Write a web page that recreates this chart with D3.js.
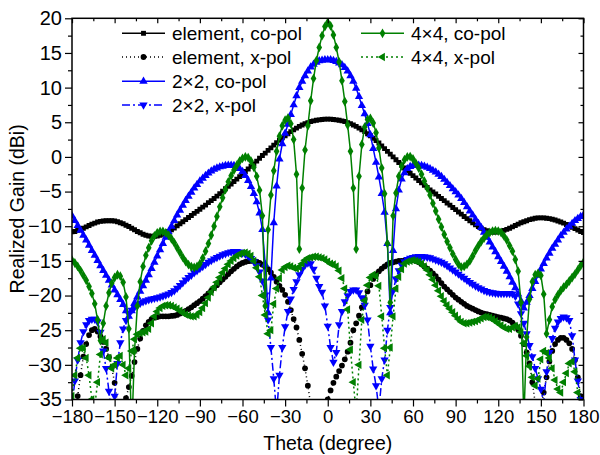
<!DOCTYPE html>
<html lang="en">
<head>
  <meta charset="UTF-8">
  <title>Realized Gain vs Theta</title>
  <style>
    body { margin: 0; background: #fff; }
    svg { display: block; font-family: Arial, "Liberation Sans", sans-serif; }
  </style>
</head>
<body>
  <svg id="chart" width="600" height="455"></svg>

  <script src="https://d3js.org/d3.v7.min.js"></script>
  <script>
    // sampling grid (degrees), one value every 2 degrees
    const theta = d3.range(-180, 181, 2);

    const xTicks = [-180, -150, -120, -90, -60, -30, 0, 30, 60, 90, 120, 150, 180];
    const yTicks = [-35, -30, -25, -20, -15, -10, -5, 0, 5, 10, 15, 20];

    // element, co-pol
    const elemCo = [
      -10.8, -10.75, -10.6, -10.45, -10.3, -10.1, -9.9, -9.7, -9.55, -9.4,
      -9.3, -9.25, -9.2, -9.2, -9.2, -9.25, -9.35, -9.5, -9.65, -9.85,
      -10.05, -10.3, -10.5, -10.75, -10.95, -11.15, -11.3, -11.4, -11.45, -11.45,
      -11.4, -11.3, -11.15, -10.95, -10.75, -10.5, -10.25, -9.95, -9.65, -9.35,
      -9.05, -8.75, -8.45, -8.15, -7.85, -7.55, -7.25, -6.95, -6.6, -6.3,
      -6.0, -5.65, -5.3, -4.95, -4.6, -4.25, -3.9, -3.55, -3.2, -2.85,
      -2.5, -2.1, -1.75, -1.35, -1.0, -0.6, -0.2, 0.2, 0.55, 0.95,
      1.3, 1.7, 2.05, 2.4, 2.75, 3.05, 3.35, 3.65, 3.9, 4.15,
      4.4, 4.6, 4.8, 4.95, 5.1, 5.2, 5.3, 5.35, 5.4, 5.45,
      5.45, 5.45, 5.4, 5.35, 5.3, 5.2, 5.1, 4.95, 4.8, 4.6,
      4.4, 4.15, 3.9, 3.65, 3.35, 3.05, 2.7, 2.35, 2.0, 1.6,
      1.2, 0.8, 0.4, 0.0, -0.4, -0.8, -1.2, -1.6, -1.95, -2.35,
      -2.7, -3.05, -3.4, -3.75, -4.1, -4.4, -4.75, -5.05, -5.35, -5.7,
      -6.0, -6.3, -6.65, -6.95, -7.3, -7.6, -7.95, -8.25, -8.6, -8.9,
      -9.2, -9.5, -9.8, -10.05, -10.3, -10.5, -10.65, -10.8, -10.85, -10.85,
      -10.8, -10.7, -10.6, -10.45, -10.3, -10.1, -9.9, -9.7, -9.5, -9.35,
      -9.2, -9.05, -8.95, -8.85, -8.8, -8.8, -8.8, -8.85, -8.9, -9.0,
      -9.1, -9.25, -9.4, -9.55, -9.75, -9.95, -10.15, -10.35, -10.55, -10.75,
      -10.9
    ];

    // element, x-pol
    const elemX = [
      -38, -36.5, -34.5, -31.5, -28.8, -27, -25.7, -25.0, -24.8, -25.2,
      -25.9, -26.7, -27.7, -28.9, -30.4, -32.6, -35.5, -38.5, -37.5, -34.8,
      -33.2, -31.6, -29.6, -27.7, -26.2, -25.1, -24.3, -23.8, -23.4, -23.2,
      -23.1, -23.0, -23.0, -23.0, -23.0, -22.95, -22.9, -22.8, -22.6, -22.4,
      -22.2, -21.95, -21.7, -21.4, -21.1, -20.8, -20.45, -20.1, -19.7, -19.3,
      -18.9, -18.5, -18.1, -17.7, -17.3, -16.9, -16.5, -16.15, -15.8, -15.5,
      -15.3, -15.15, -15.05, -15.0, -15.0, -15.1, -15.3, -15.55, -15.85, -16.2,
      -16.7, -17.3, -18.0, -18.6, -19.2, -19.9, -20.9, -22.1, -23.4, -24.6,
      -26.4, -28.4, -30.5, -33.0, -35.8, -38.5, -40, -40, -39, -37,
      -35.0, -33.7, -32.6, -31.7, -30.9, -30.1, -29.2, -28.1, -26.8, -25.0,
      -24.0, -22.9, -21.7, -20.5, -19.4, -18.5, -17.6, -17.0, -16.5, -16.1,
      -15.8, -15.5, -15.3, -15.2, -15.1, -15.0, -15.0, -14.95, -14.9, -14.9,
      -14.9, -15.0, -15.2, -15.5, -15.8, -16.1, -16.4, -16.8, -17.2, -17.7,
      -18.2, -18.7, -19.1, -19.5, -19.9, -20.3, -20.6, -20.9, -21.2, -21.5,
      -21.7, -21.9, -22.1, -22.3, -22.45, -22.6, -22.7, -22.8, -22.9, -23.0,
      -23.1, -23.2, -23.3, -23.4, -23.6, -23.9, -24.3, -24.9, -25.8, -27.0,
      -28.2, -29.8, -32.5, -35.5, -37.5, -36.5, -34, -31.8, -29.5, -28.0,
      -27.0, -26.4, -26.1, -26.1, -26.4, -26.9, -27.7, -29.3, -31.8, -34.5,
      -37.5
    ];

    // 2x2, co-pol
    const arr2Co = [
      -8.5, -9.2, -9.9, -10.6, -11.3, -12.0, -12.75, -13.5, -14.2, -14.95,
      -15.7, -16.4, -17.1, -17.8, -18.5, -19.2, -19.9, -20.6, -21.3, -22.2,
      -23.0, -22.2, -21.1, -20.2, -19.4, -18.6, -17.8, -17.0, -16.1, -15.2,
      -14.3, -13.4, -12.5, -11.6, -10.8, -10.0, -9.2, -8.4, -7.7, -7.0,
      -6.3, -5.7, -5.1, -4.5, -4.0, -3.5, -3.1, -2.7, -2.35, -2.05,
      -1.8, -1.6, -1.45, -1.35, -1.25, -1.2, -1.2, -1.25, -1.4, -1.7,
      -2.1, -2.7, -3.4, -4.3, -5.3, -6.5, -8.1, -10.5, -15.5, -22.5,
      -17.5, -9.5, -4.2, -0.3, 1.9, 3.4, 4.7, 6.1, 7.5, 8.8,
      10.0, 10.9, 11.7, 12.4, 12.95, 13.35, 13.65, 13.85, 13.95, 14.0,
      14.0, 14.0, 13.9, 13.75, 13.55, 13.3, 12.9, 12.4, 11.7, 10.9,
      9.9, 8.7, 7.4, 6.2, 4.8, 3.2, 1.2, -0.8, -2.9, -5.3,
      -8.0, -12.5, -22.5, -13.5, -7.5, -4.8, -3.2, -2.3, -1.7, -1.4,
      -1.25, -1.2, -1.2, -1.25, -1.35, -1.5, -1.7, -1.95, -2.2, -2.5,
      -2.85, -3.25, -3.7, -4.15, -4.6, -5.05, -5.5, -6.0, -6.6, -7.2,
      -7.8, -8.4, -9.0, -9.6, -10.2, -10.9, -11.6, -12.3, -13.0, -13.7,
      -14.4, -15.1, -15.8, -16.5, -17.3, -18.1, -18.9, -19.8, -20.8, -21.8,
      -21.0, -20.0, -19.0, -18.0, -17.1, -16.2, -15.4, -14.6, -13.9, -13.2,
      -12.6, -12.0, -11.4, -10.9, -10.4, -10.0, -9.6, -9.2, -8.9, -8.6,
      -8.4
    ];

    // 2x2, x-pol
    const arr2X = [
      -36, -32.3, -29.3, -26.8, -25.2, -24.2, -23.6, -23.4, -23.4, -23.8,
      -25.3, -28.0, -30.5, -33.8, -37, -34.5, -29.8, -26.8, -24.8, -23.6,
      -22.7, -22.1, -21.7, -21.35, -21.1, -20.9, -20.75, -20.6, -20.5, -20.4,
      -20.3, -20.2, -20.05, -19.9, -19.75, -19.55, -19.3, -18.95, -18.55, -18.15,
      -17.75, -17.4, -17.05, -16.7, -16.4, -16.1, -15.8, -15.5, -15.2, -14.95,
      -14.7, -14.5, -14.3, -14.1, -13.95, -13.8, -13.7, -13.65, -13.65, -13.7,
      -13.85, -14.05, -14.3, -14.65, -15.1, -15.7, -16.6, -17.9, -19.9, -23.5,
      -27.5, -32, -37, -31.5, -27.5, -24.5, -22.3, -20.5, -19.1, -18.0,
      -17.0, -16.2, -15.6, -15.3, -15.4, -16.2, -17.5, -18.7, -19.5, -21.5,
      -24.4, -27.5, -29.6, -28.2, -24.2, -22.3, -20.9, -20.0, -19.4, -19.2,
      -19.2, -19.6, -20.3, -21.4, -23.5, -27.3, -30.6, -33.0, -36.5, -32.0,
      -29.3, -25.0, -21.7, -19.3, -17.6, -16.4, -15.6, -15.1, -14.8, -14.6,
      -14.5, -14.4, -14.35, -14.35, -14.4, -14.45, -14.55, -14.7, -14.85, -15.0,
      -15.2, -15.4, -15.7, -16.0, -16.3, -16.6, -16.9, -17.2, -17.5, -17.8,
      -18.1, -18.35, -18.6, -18.85, -19.05, -19.25, -19.4, -19.5, -19.6, -19.65,
      -19.7, -19.7, -19.7, -19.7, -19.7, -19.75, -20.1, -21.2, -22.6, -24.0,
      -25.5, -27.2, -28.8, -30.5, -32.0, -33.5, -35.5, -31.0, -28.2, -26.2,
      -24.7, -23.8, -23.3, -23.1, -23.2, -23.6, -25.8, -29.3, -32.3, -35.0,
      -37.5
    ];

    // 4x4, co-pol
    const arr4Co = [
      -14.9, -15.3, -15.8, -16.4, -17.1, -17.8, -18.7, -19.7, -21.2, -23.5,
      -26.5, -24.0, -21.5, -19.6, -18.2, -17.4, -17.0, -17.2, -18.1, -20.2,
      -24.8, -40, -28, -21.5, -18.0, -15.8, -14.2, -13.1, -12.1, -11.4,
      -10.95, -10.75, -10.75, -10.95, -11.3, -11.8, -12.4, -13.1, -13.8, -14.5,
      -15.1, -15.55, -15.85, -15.95, -15.8, -15.4, -14.6, -13.6, -12.5, -11.3,
      -10.0, -8.6, -7.2, -5.9, -4.7, -3.6, -2.7, -1.9, -1.2, -0.6,
      -0.2, 0.0, -0.1, -0.6, -1.5, -2.8, -4.8, -8.5, -21.5, -10.5,
      -5.5, -2.0, 0.8, 3.0, 4.5, 5.3, 5.6, 4.8, 2.5, -2.5,
      -13.3, -4.5, 1.0, 4.5, 8.1, 11.3, 13.9, 15.8, 17.5, 18.8,
      19.4, 18.9, 17.6, 15.8, 13.7, 11.0, 8.0, 4.6, 0.8, -4.5,
      -13.3, -2.8, 1.8, 4.3, 5.4, 5.55, 4.9, 3.5, 1.3, -1.6,
      -5.3, -12.5, -21, -8.5, -5.2, -2.8, -1.3, -0.4, 0.0, 0.05,
      -0.3, -0.9, -1.6, -2.5, -3.5, -4.5, -5.5, -6.7, -7.8, -9.0,
      -10.1, -11.2, -12.2, -13.1, -14.0, -14.8, -15.5, -15.9, -15.8, -15.5,
      -15.0, -14.3, -13.5, -12.8, -12.2, -11.7, -11.2, -10.9, -10.7, -10.65,
      -10.7, -10.9, -11.4, -12.0, -12.8, -13.6, -14.8, -16.5, -21.0, -38,
      -26, -20.5, -18.0, -17.0, -16.8, -17.1, -19.8, -25.5, -23.5, -21.6,
      -20.6, -19.9, -19.3, -18.8, -18.4, -17.9, -17.4, -16.9, -16.3, -15.7,
      -15.2
    ];

    // 4x4, x-pol
    const arr4X = [
      -34.5, -31.5, -29.0, -27.6, -27.6, -29.0, -31.5, -35, -36, -32.5,
      -28.5, -26.3, -26.8, -29.0, -30.5, -30.0, -29.0, -28.7, -30.0, -31.5,
      -30.5, -28.0, -26.3, -25.6, -25.4, -25.3, -25.2, -24.8, -24.0, -23.0,
      -22.3, -21.8, -21.5, -21.4, -21.4, -21.5, -21.7, -21.9, -22.2, -22.5,
      -22.75, -22.9, -23.0, -23.0, -22.8, -22.4, -21.8, -21.1, -20.3, -19.5,
      -18.8, -18.1, -17.4, -16.7, -16.1, -15.5, -15.0, -14.6, -14.25, -14.0,
      -13.85, -13.8, -13.95, -14.3, -15.0, -16.0, -17.3, -20.0, -22.8, -25.5,
      -25.0, -21.2, -19.0, -17.5, -16.3, -15.9, -15.7, -15.8, -16.0, -16.1,
      -15.9, -15.4, -14.9, -14.6, -14.5, -14.4, -14.4, -14.5, -14.6, -14.8,
      -15.1, -15.4, -15.5, -15.8, -16.4, -17.5, -19.0, -22.0, -27.8, -32.5,
      -37, -30, -23.5, -20.7, -18.5, -17.4, -17.0, -17.2, -18.6, -23.0,
      -27.6, -31.5, -27.5, -23.0, -19.0, -17.3, -16.2, -15.4, -15.1, -15.0,
      -14.9, -15.0, -15.1, -15.4, -15.8, -16.3, -17.0, -17.7, -18.5, -19.3,
      -20.1, -20.8, -21.4, -21.9, -22.4, -22.9, -23.4, -23.8, -24.0, -24.0,
      -23.9, -23.8, -23.7, -23.5, -23.3, -23.1, -23.1, -23.2, -23.4, -23.7,
      -24.0, -24.3, -24.6, -24.8, -24.8, -24.6, -24.4, -24.6, -25.3, -26.9,
      -28.7, -30.2, -31.8, -33.0, -32.0, -29.2, -28.0, -28.3, -29.0, -30.5,
      -32.2, -33.5, -34.0, -32.5, -31.2, -29.8, -29.5, -31.0, -34.0, -36,
      -37
    ];

    const black = "#000000", blue = "#0000ff", green = "#008000";

    const series = [
      { name: "element, co-pol", values: elemCo, color: black, dash: null,
        symbol: d3.symbolSquare, size: 24, rotate: 0 },
      { name: "element, x-pol", values: elemX, color: black, dash: "1,3",
        symbol: d3.symbolCircle, size: 26, rotate: 0 },
      { name: "2\u00d72, co-pol", values: arr2Co, color: blue, dash: null,
        symbol: d3.symbolTriangle, size: 30, rotate: 0 },
      { name: "2\u00d72, x-pol", values: arr2X, color: blue, dash: "8,3,2,3",
        symbol: d3.symbolTriangle, size: 30, rotate: 180 },
      { name: "4\u00d74, co-pol", values: arr4Co, color: green, dash: null,
        symbol: d3.symbolDiamond, size: 28, rotate: 0 },
      { name: "4\u00d74, x-pol", values: arr4X, color: green, dash: "2,3",
        symbol: d3.symbolTriangle, size: 30, rotate: -90 }
    ];

    const svg = d3.select("#chart");
    const plotLeft = 72, plotRight = 583.5, plotTop = 18.3, plotBottom = 399.5;

    const x = d3.scaleLinear().domain([-180, 180]).range([plotLeft, plotRight]);
    const y = d3.scaleLinear().domain([-35, 20]).range([plotBottom, plotTop]);

    svg.append("defs").append("clipPath").attr("id", "plot-clip")
      .append("rect")
      .attr("x", plotLeft).attr("y", plotTop)
      .attr("width", plotRight - plotLeft).attr("height", plotBottom - plotTop);

    // curves
    const plot = svg.append("g").attr("clip-path", "url(#plot-clip)");
    const line = d3.line()
      .x((d, i) => x(theta[i]))
      .y(d => y(d));

    series.forEach(s => {
      plot.append("path")
        .datum(s.values)
        .attr("fill", "none")
        .attr("stroke", s.color)
        .attr("stroke-width", 1.5)
        .attr("stroke-dasharray", s.dash)
        .attr("d", line);

      const sym = d3.symbol().type(s.symbol).size(s.size);
      plot.append("g").selectAll("path")
        .data(s.values)
        .enter()
        .append("path")
        .attr("d", sym)
        .attr("fill", s.color)
        .attr("transform", (d, i) =>
          `translate(${x(theta[i])},${y(d)}) rotate(${s.rotate})`);
    });

    // axes: labelled ticks outside on bottom/left, plain ticks inside on top/right
    const xMinor = d3.range(-165, 180, 30);
    const yMinor = d3.range(-32.5, 20, 5);

    const gx = svg.append("g").attr("transform", `translate(0,${plotBottom})`)
      .call(d3.axisBottom(x).tickValues(xTicks).tickSize(7).tickPadding(3)
        .tickFormat(d3.format("d")));
    svg.append("g").attr("transform", `translate(0,${plotBottom})`)
      .call(d3.axisBottom(x).tickValues(xMinor).tickSize(4).tickFormat(""));

    const gy = svg.append("g").attr("transform", `translate(${plotLeft},0)`)
      .call(d3.axisLeft(y).tickValues(yTicks).tickSize(7).tickPadding(3)
        .tickFormat(d3.format("d")));
    svg.append("g").attr("transform", `translate(${plotLeft},0)`)
      .call(d3.axisLeft(y).tickValues(yMinor).tickSize(4).tickFormat(""));

    svg.append("g").attr("transform", `translate(0,${plotTop})`)
      .call(d3.axisBottom(x).tickValues(xTicks).tickSize(5).tickFormat(""));
    svg.append("g").attr("transform", `translate(0,${plotTop})`)
      .call(d3.axisBottom(x).tickValues(xMinor).tickSize(3).tickFormat(""));
    svg.append("g").attr("transform", `translate(${plotRight},0)`)
      .call(d3.axisLeft(y).tickValues(yTicks).tickSize(5).tickFormat(""));
    svg.append("g").attr("transform", `translate(${plotRight},0)`)
      .call(d3.axisLeft(y).tickValues(yMinor).tickSize(3).tickFormat(""));

    svg.selectAll(".domain").remove();
    svg.selectAll(".tick line").attr("stroke", "#000").attr("stroke-width", 1.2);
    svg.selectAll(".tick text")
      .attr("fill", "#000")
      .style("font-family", "Arial, 'Liberation Sans', sans-serif");
    gx.selectAll(".tick text").style("font-size", "18.5px");
    gy.selectAll(".tick text").style("font-size", "20px");

    // frame
    svg.append("rect")
      .attr("x", plotLeft).attr("y", plotTop)
      .attr("width", plotRight - plotLeft).attr("height", plotBottom - plotTop)
      .attr("fill", "none").attr("stroke", "#000").attr("stroke-width", 1.5);

    // axis titles
    svg.append("text")
      .attr("x", (plotLeft + plotRight) / 2).attr("y", 450)
      .attr("text-anchor", "middle")
      .style("font-size", "19.5px")
      .text("Theta (degree)");

    svg.append("text")
      .attr("transform", `translate(24,${(plotTop + plotBottom) / 2}) rotate(-90)`)
      .attr("text-anchor", "middle")
      .style("font-size", "19.5px")
      .text("Realized Gain (dBi)");

    // legend
    const legendPos = [
      { x: 122, y: 33.3 }, { x: 122, y: 57 }, { x: 122, y: 81.3 },
      { x: 122, y: 105 }, { x: 361, y: 33.3 }, { x: 361, y: 57 }
    ];
    series.forEach((s, i) => {
      const p = legendPos[i];
      const g = svg.append("g").attr("transform", `translate(${p.x},${p.y})`);
      g.append("line")
        .attr("x1", 0).attr("x2", 43)
        .attr("stroke", s.color).attr("stroke-width", 1.5)
        .attr("stroke-dasharray", s.dash);
      g.append("path")
        .attr("d", d3.symbol().type(s.symbol).size(s.size))
        .attr("fill", s.color)
        .attr("transform", `translate(21.5,0) rotate(${s.rotate})`);
      g.append("text")
        .attr("x", 50).attr("y", 7)
        .style("font-size", "19px")
        .text(s.name);
    });
  </script>
</body>
</html>
